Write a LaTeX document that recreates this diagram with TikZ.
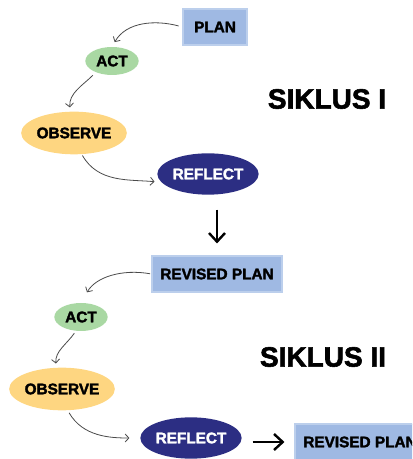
\documentclass[tikz,border=0pt]{standalone}
\usepackage{fontspec}
\setmainfont{Liberation Sans}[BoldFeatures={FakeBold=2}]
\usetikzlibrary{arrows.meta,shapes.geometric}

\definecolor{planblue}{HTML}{9FB9E3}
\definecolor{planedge}{HTML}{BCCFEC}
\definecolor{actgreen}{HTML}{A9D8A3}
\definecolor{obsyellow}{HTML}{FED681}
\definecolor{refnavy}{HTML}{2C2E83}
\definecolor{linegray}{HTML}{4A4A4A}

\tikzset{
  stagetext/.style={font=\fontsize{11.5}{13}\selectfont\bfseries, inner sep=0pt},
  planbox/.style={stagetext, rectangle, fill=planblue, draw=planedge, line width=0.8pt, minimum height=27pt},
  actnode/.style={stagetext, ellipse, fill=actgreen, minimum width=40pt, minimum height=21pt},
  obsnode/.style={stagetext, ellipse, fill=obsyellow, minimum width=76pt, minimum height=32pt},
  refnode/.style={stagetext, ellipse, fill=refnavy, text=white, minimum width=76pt, minimum height=31pt},
  cycletitle/.style={font=\fontsize{21}{25}\selectfont\bfseries},
  flow/.style={draw=linegray, line width=0.6pt, -{Straight Barb[length=2.8pt,width=6pt]}},
  bigarrow/.style={draw=black, line width=1.8pt, -{Straight Barb[length=6.5pt,width=12pt]}}
}

\begin{document}
\begin{tikzpicture}[x=0.75pt, y=0.75pt]
      \clip (0,0) rectangle (412,459);

      \begin{scope}
        % Siklus I stages
        \node[planbox, minimum width=48pt] (plan1) at (215, 432) {PLAN};
        \node[actnode] (act1) at (112, 398) {ACT};
        \node[obsnode] (observe1) at (74, 326) {OBSERVE};
        \node[refnode] (reflect1) at (208, 285) {REFLECT};
        \node[cycletitle] (siklus1) at (327, 360) {SIKLUS I};

        % Siklus I curved arrows
        \draw[flow, shorten <=3pt, shorten >=4pt] (plan1.west) to[out=165, in=60] (act1.north);
        \draw[flow, shorten <=3pt, shorten >=3pt] (act1.215) to[out=225, in=95] (observe1.100);
        \draw[flow, shorten <=1pt, shorten >=5pt] (observe1.290) to[out=-60, in=175] (reflect1.190);
      \end{scope}

      \begin{scope}
        % Siklus II stages
        \node[planbox, minimum width=97.5pt] (rplan1) at (217, 185) {REVISED PLAN};
        \node[actnode] (act2) at (81, 142) {ACT};
        \node[obsnode] (observe2) at (62, 70) {OBSERVE};
        \node[refnode] (reflect2) at (191, 21) {REFLECT};
        \node[cycletitle] (siklus2) at (323, 102) {SIKLUS II};
        \node[planbox, minimum width=97.5pt] (rplan2) at (360, 17) {REVISED PLAN};

        % Siklus II curved arrows
        \draw[flow, shorten <=1pt, shorten >=9pt] (rplan1.west) to[out=170, in=60] (act2.north);
        \draw[flow, shorten <=2pt, shorten >=3pt] (act2.250) to[out=235, in=95] (observe2.105);
        \draw[flow, shorten <=2pt, shorten >=8pt] (observe2.285) to[out=-60, in=180] (reflect2.west);
      \end{scope}

      % Arrows between the cycles
      \draw[bigarrow, shorten <=11pt, shorten >=9pt] (reflect1.south -| rplan1.north) -- (rplan1.north);
      \draw[bigarrow, shorten <=8pt, shorten >=7.5pt] (rplan2.west -| reflect2.east) -- (rplan2.west);
    \end{tikzpicture}
\end{document}
